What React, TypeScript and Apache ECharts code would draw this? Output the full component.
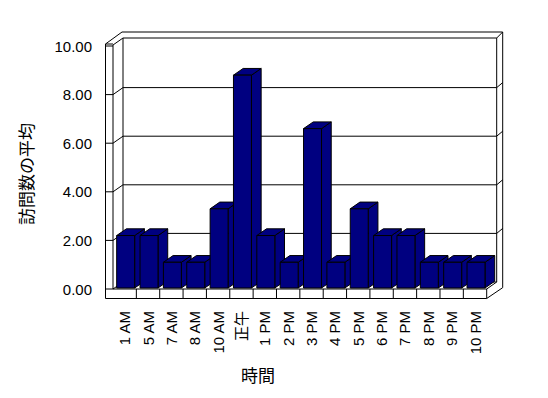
import React, { useEffect, useRef } from "react";
import * as echarts from "echarts";

const categories = ["1 AM", "5 AM", "7 AM", "8 AM", "10 AM", "正午", "1 PM", "2 PM", "3 PM", "4 PM", "5 PM", "6 PM", "7 PM", "8 PM", "9 PM", "10 PM"];
const visits = [2.2, 2.2, 1.1, 1.1, 3.3, 8.8, 2.2, 1.1, 6.6, 1.1, 3.3, 2.2, 2.2, 1.1, 1.1, 1.1];
const yTicks = [0, 2, 4, 6, 8, 10];
const yAxisTitle = "訪問数の平均";
const xAxisTitle = "時間";

const FONT = "'Liberation Sans', 'Noto Sans CJK JP', sans-serif";
const DX = 10;
const DY = -7;
const BAR_COLOR = "#000080";

function ln(x1: number, y1: number, x2: number, y2: number) {
  return {
    type: "line",
    shape: { x1, y1, x2, y2 },
    style: { stroke: "#000", lineWidth: 1, fill: null },
  };
}

function renderFrame(params: any, api: any) {
  const cs = params.coordSys;
  const L = cs.x;
  const R = cs.x + cs.width;
  const B = api.coord([0, yTicks[0]])[1];
  const T = api.coord([0, yTicks[yTicks.length - 1]])[1];
  const slab = 7.5;
  const floorT = 9.5;
  const backT = 6;
  const band = api.size([1, 0])[0];
  const children: any[] = [];
  children.push(ln(L - slab, T - 2, L - slab, B + floorT));
  children.push(ln(L - slab, B + floorT, R, B + floorT));
  children.push(ln(L, T - 1, L, B));
  children.push(ln(L, B, R, B));
  children.push(ln(R, B, R, B + floorT));
  children.push(ln(R, B, R + DX, B + DY));
  children.push(ln(R, B + floorT, R + DX + backT, B + floorT + DY * 1.55));
  children.push(ln(L - slab, T - 2, L, T - 2));
  children.push(ln(L - slab, T - 2, L + DX - 1, T - 14));
  children.push(ln(L, T - 1, L + DX, T + DY - 1));
  children.push(ln(L + DX, T + DY - 1, R + DX, T + DY - 1));
  children.push(ln(L + DX, T + DY - 1, L + DX, B + DY));
  children.push(ln(R + DX, T + DY - 1, R + DX, B + DY));
  children.push(ln(L + DX, B + DY, R + DX, B + DY));
  children.push(ln(L + DX - 1, T - 14, R + DX + backT, T - 14));
  children.push(ln(R + DX + backT, T - 14, R + DX + backT, B + floorT + DY * 1.55));
  children.push(ln(R + DX, T + DY - 1, R + DX + backT, T - 14));
  yTicks.forEach((v) => {
    const y = api.coord([0, v])[1];
    children.push(ln(L - slab, y, L, y));
    if (v !== yTicks[yTicks.length - 1]) {
      children.push(ln(L, y, L + DX, y + DY));
    }
    if (v !== yTicks[0] && v !== yTicks[yTicks.length - 1]) {
      children.push(ln(L + DX, y + DY, R + DX, y + DY));
      children.push(ln(R + DX, y + DY, R + DX + backT, y + DY - 5));
    }
  });
  for (let k = 1; k < categories.length; k++) {
    const x = api.coord([k, 0])[0] - band / 2;
    children.push(ln(x, B, x, B + floorT));
  }
  return { type: "group", children };
}

function renderBar(params: any, api: any) {
  const idx = api.value(0);
  const val = api.value(1);
  const top = api.coord([idx, val]);
  const base = api.coord([idx, 0]);
  const band = api.size([1, 0])[0];
  const w = band * 0.77;
  const x1 = top[0] - w / 2 + 1;
  const x2 = x1 + w;
  const yt = top[1];
  const yb = base[1] - 1;
  const dx = DX * 0.97;
  const dy = DY * 0.96;
  const st = { fill: BAR_COLOR, stroke: "#000", lineWidth: 1 };
  return {
    type: "group",
    children: [
      { type: "polygon", shape: { points: [[x2, yt], [x2 + dx, yt + dy], [x2 + dx, yb + dy], [x2, yb]] }, style: st },
      { type: "polygon", shape: { points: [[x1, yt], [x2, yt], [x2 + dx, yt + dy], [x1 + dx, yt + dy]] }, style: st },
      { type: "rect", shape: { x: x1, y: yt, width: w, height: yb - yt }, style: st },
    ],
  };
}

export default function App() {
  const ref = useRef<HTMLDivElement>(null);
  useEffect(() => {
    if (!ref.current) return;
    const chart = echarts.init(ref.current, null, { renderer: "svg" });
    chart.setOption({
      animation: false,
      backgroundColor: "#fff",
      grid: { left: 113, top: 46, width: 373.7, height: 243 },
      xAxis: {
        type: "category",
        data: categories,
        axisLine: { show: false },
        axisTick: { show: false },
        splitLine: { show: false },
        axisLabel: {
          rotate: 90,
          margin: 22,
          interval: 0,
          color: "#000",
          fontSize: 15,
          fontFamily: FONT,
        },
      },
      yAxis: {
        type: "value",
        min: 0,
        max: 10,
        interval: 2,
        axisLine: { show: false },
        axisTick: { show: false },
        splitLine: { show: false },
        axisLabel: {
          margin: 21,
          color: "#000",
          fontSize: 15,
          fontFamily: FONT,
          formatter: (v: number) => v.toFixed(2),
        },
      },
      graphic: [
        {
          type: "text",
          x: 27,
          y: 174,
          rotation: Math.PI / 2,
          style: {
            text: yAxisTitle,
            fill: "#000",
            fontSize: 17,
            fontFamily: FONT,
            align: "center",
            verticalAlign: "middle",
          },
        },
        {
          type: "text",
          x: 258,
          y: 376,
          style: {
            text: xAxisTitle,
            fill: "#000",
            fontSize: 17,
            fontFamily: FONT,
            align: "center",
            verticalAlign: "middle",
          },
        },
      ],
      series: [
        {
          type: "custom",
          z: 1,
          renderItem: renderFrame,
          data: [[0, 0]],
          silent: true,
        },
        {
          type: "custom",
          z: 2,
          renderItem: renderBar,
          data: visits.map((v, i) => [i, v]),
          encode: { x: 0, y: 1 },
          silent: true,
        },
      ],
    });
    return () => chart.dispose();
  }, []);
  return <div ref={ref} style={{ position: "absolute", left: 0, top: 0, width: 548, height: 398 }} />;
}
